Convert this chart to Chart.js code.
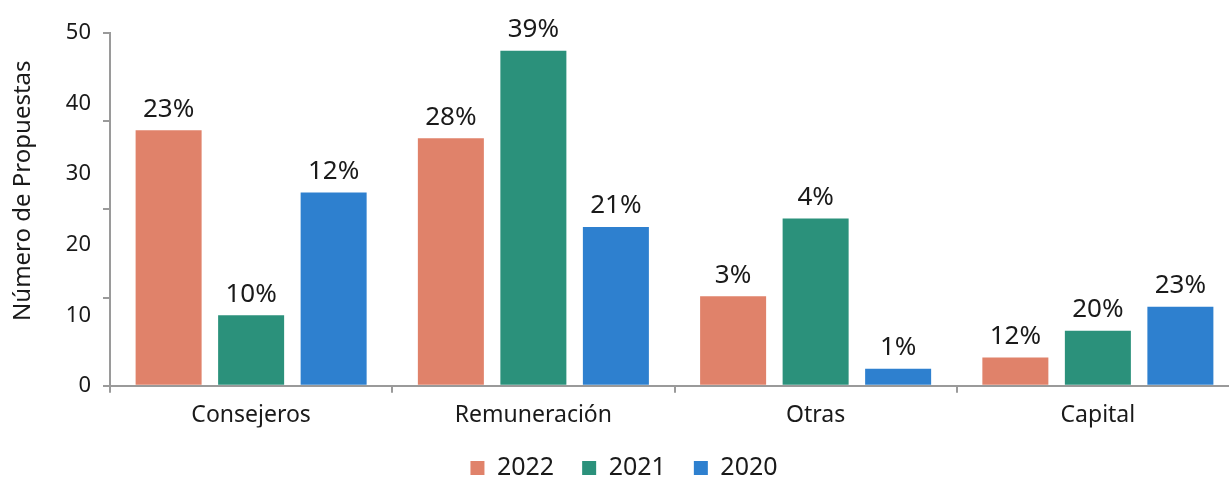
<!DOCTYPE html>
<html lang="es">
<head>
<meta charset="utf-8">
<title>Número de Propuestas</title>
<script src="https://cdn.jsdelivr.net/npm/chart.js@4.4.1/dist/chart.umd.min.js"></script>
<style>
  html, body { margin: 0; padding: 0; background: #fff; overflow: hidden; }
  #wrap { width: 1257px; height: 478px; }
</style>
</head>
<body>
<div id="wrap"><canvas id="chart"></canvas></div>
<script>
const categories = ['Consejeros', 'Remuneración', 'Otras', 'Capital'];
const years = ['2022', '2021', '2020'];

const values2022 = [36.2, 35.1, 12.7, 4.0];
const values2021 = [10.0, 47.5, 23.7, 7.8];
const values2020 = [27.4, 22.5, 2.4, 11.2];

const pct2022 = ['23%', '28%', '3%', '12%'];
const pct2021 = ['10%', '39%', '4%', '20%'];
const pct2020 = ['12%', '21%', '1%', '23%'];

const yLabelTicks = [0, 10, 20, 30, 40, 50];
const yMarkStep = 12.5;

const COLORS = ['#E0826A', '#2B917B', '#2E80CF'];
const AXIS = '#9a9a9a';
const TEXT = '#1a1a1a';
const FONT = "'Noto Sans', sans-serif";

// leading spaces nudge the rotated title up, like the original
const Y_TITLE = '      Número de Propuestas';

const percentLabels = {
  id: 'percentLabels',
  afterDatasetsDraw(chart) {
    const { ctx } = chart;
    const labels = [pct2022, pct2021, pct2020];
    ctx.save();
    ctx.font = `26px ${FONT}`;
    ctx.fillStyle = TEXT;
    ctx.textAlign = 'center';
    ctx.textBaseline = 'bottom';
    chart.data.datasets.forEach((ds, d) => {
      chart.getDatasetMeta(d).data.forEach((bar, i) => {
        ctx.fillText(labels[d][i], bar.x, bar.y - 8);
      });
    });
    ctx.restore();
  }
};

new Chart(document.getElementById('chart'), {
  type: 'bar',
  data: {
    labels: categories,
    datasets: [values2022, values2021, values2020].map((data, i) => ({
      label: years[i],
      data,
      backgroundColor: COLORS[i],
      borderWidth: 0,
      categoryPercentage: 0.877,
      barPercentage: 0.8
    }))
  },
  options: {
    responsive: true,
    maintainAspectRatio: false,
    animation: false,
    layout: { padding: { left: 9, right: 18, top: 33, bottom: -12.5 } },
    plugins: {
      tooltip: { enabled: false },
      legend: {
        position: 'bottom',
        labels: {
          boxWidth: 14,
          boxHeight: 14,
          padding: 28,
          color: TEXT,
          font: { family: FONT, size: 25 }
        }
      }
    },
    scales: {
      x: {
        afterFit: (scale) => { scale.height = 41.7; },
        grid: {
          offset: true,
          drawOnChartArea: false,
          tickLength: 7,
          color: AXIS,
          lineWidth: 2
        },
        border: { color: AXIS, width: 2 },
        ticks: { color: TEXT, padding: 9, font: { family: FONT, size: 23 } }
      },
      y: {
        min: 0,
        max: 50,
        afterFit: (scale) => { scale.width = 101; },
        title: {
          display: true,
          text: Y_TITLE,
          color: TEXT,
          padding: { top: 0, bottom: 0 },
          font: { family: FONT, size: 24 }
        },
        grid: {
          drawOnChartArea: false,
          tickLength: 7,
          lineWidth: 2,
          color: (c) => (c.tick && c.tick.value % yMarkStep === 0 ? AXIS : 'rgba(0,0,0,0)')
        },
        border: { color: AXIS, width: 2 },
        ticks: {
          stepSize: 2.5,
          autoSkip: false,
          padding: 12,
          color: TEXT,
          font: { family: FONT, size: 22 },
          callback: (v) => (yLabelTicks.includes(v) ? v : '')
        }
      }
    }
  },
  plugins: [percentLabels]
});
</script>
</body>
</html>
